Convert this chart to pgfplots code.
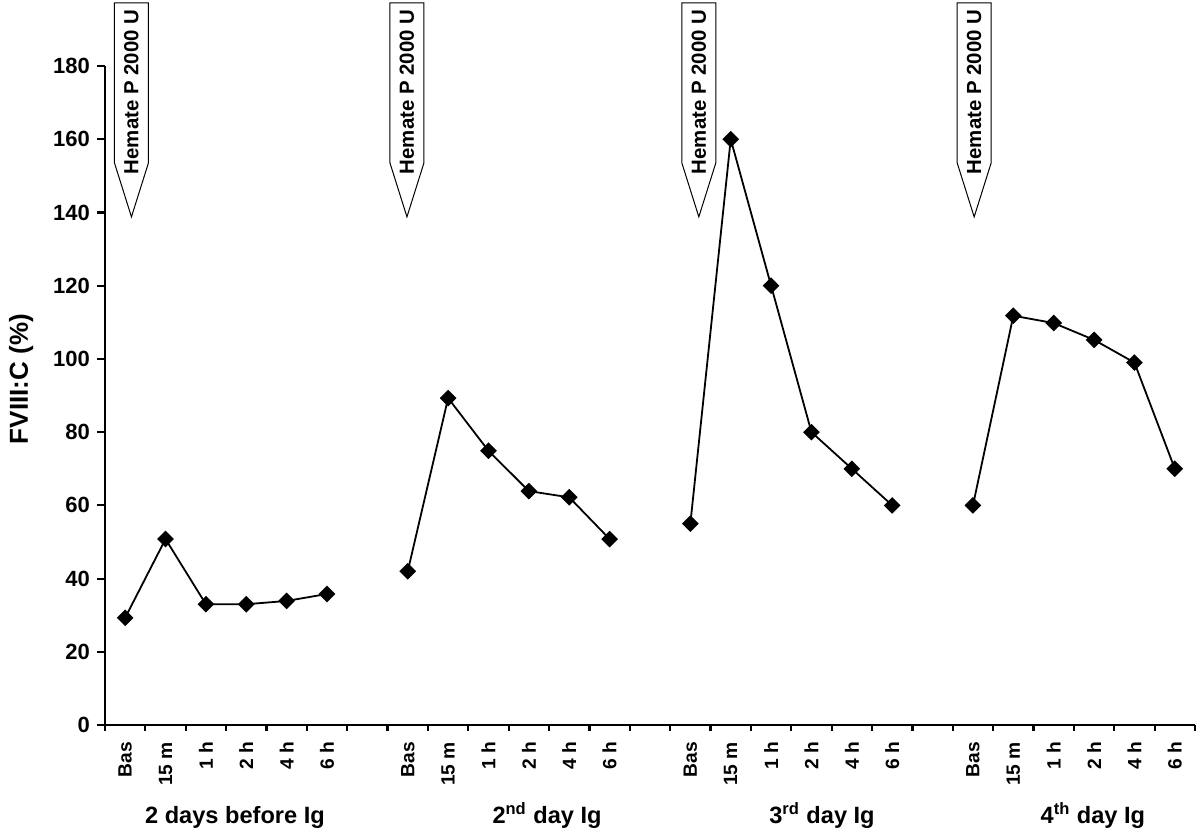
\documentclass[border=0pt]{standalone}
\usepackage{pgfplots}
\pgfplotsset{compat=1.18}
\usepackage{fontspec}
\setmainfont{Liberation Sans}

\newcommand{\callout}[1]{%
  \draw[fill=white, line width=0.5pt] (axis cs:#1,138.8) -- ++(-8.5pt,27pt) -- ++(0pt,80pt)
    -- ++(17pt,0pt) -- ++(0pt,-80pt) -- cycle;
  \node[rotate=90, font=\bfseries\fontsize{10.2}{10}\selectfont, inner sep=0pt]
    at ([yshift=62.5pt]axis cs:#1,138.8) {Hemate P 2000 U};
}

\pgfplotsset{datastyle/.style={black, line width=0.9pt, mark=square*,
        mark size=2.5pt, mark options={rotate=45, solid, fill=black}}}

\begin{document}
\begin{tikzpicture}
\begin{axis}[
    scale only axis,
    width=545pt, height=329.5pt,
    xmin=-0.5, xmax=26.5,
    ymin=0, ymax=180,
    axis lines=left,
    axis line style={-, line width=1.1pt},
    tick align=outside,
    tick style={line width=1.1pt, black},
    major tick length=4pt,
    minor tick length=3pt,
    ytick={0,20,...,180},
    xtick={0,...,26},
    xticklabels={Bas,15 m,1 h,2 h,4 h,6 h,,Bas,15 m,1 h,2 h,4 h,6 h,,Bas,15 m,1 h,2 h,4 h,6 h,,Bas,15 m,1 h,2 h,4 h,6 h},
    minor xtick={-0.5,0.5,...,26.5},
    major x tick style={draw=none},
    xticklabel shift=1pt,
    xticklabel style={rotate=90, anchor=east,
        font=\bfseries\fontsize{9.6}{9.6}\selectfont},
    yticklabel style={font=\bfseries\fontsize{11}{11}\selectfont},
    /pgf/number format/assume math mode=true,
    ylabel={FVIII:C (\%)},
    every axis y label/.style={at={(rel axis cs:-0.077,0.525)}, rotate=90, anchor=center,
        font=\bfseries\fontsize{13}{13}\selectfont},
    clip=false,
]
% 2 days before Ig
\addplot[datastyle] coordinates {(0,29.3) (1,50.8) (2,33) (3,33) (4,33.9) (5,35.8)};
% 2nd day Ig
\addplot[datastyle] coordinates {(7,42) (8,89.3) (9,74.9) (10,63.9) (11,62.2) (12,50.8)};
% 3rd day Ig
\addplot[datastyle] coordinates {(14,55) (15,160) (16,120) (17,80) (18,70) (19,60)};
% 4th day Ig
\addplot[datastyle] coordinates {(21,60) (22,111.8) (23,109.8) (24,105.2) (25,99) (26,70)};

\callout{0.156}
\callout{6.98}
\callout{14.21}
\callout{21.03}

\begin{scope}[every node/.style={anchor=base, font=\bfseries\fontsize{11.8}{12}\selectfont}]
\node at ([yshift=-49pt]axis cs:2.72,0) {2 days before Ig};
\node at ([yshift=-49pt]axis cs:10.45,0) {2\textsuperscript{nd} day Ig};
\node at ([yshift=-49pt]axis cs:17.26,0) {3\textsuperscript{rd} day Ig};
\node at ([yshift=-49pt]axis cs:23.97,0) {4\textsuperscript{th} day Ig};
\end{scope}

\coordinate (bbsw) at (rel axis cs:-0.0963,-0.1669);
\coordinate (bbne) at (rel axis cs:1.0046,1.1002);
\end{axis}
\pgfresetboundingbox
\useasboundingbox (bbsw) rectangle (bbne);
\end{tikzpicture}
\end{document}
